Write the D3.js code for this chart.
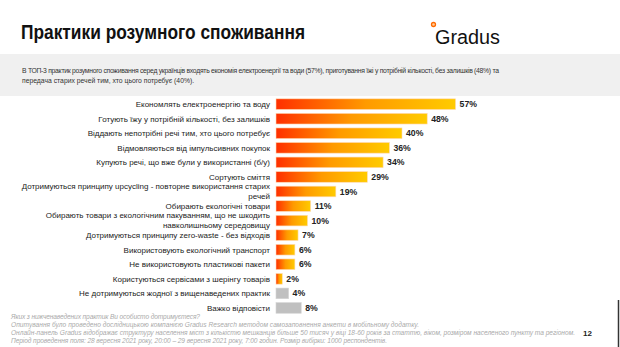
<!DOCTYPE html>
<html>
<head>
<meta charset="utf-8">
<script src="https://cdn.jsdelivr.net/npm/d3@7"></script>
<style>
  body { margin: 0; background: #fff; }
  svg { display: block; font-family: "Liberation Sans", Arial, sans-serif; }
</style>
</head>
<body>
<svg id="chart" width="620" height="347"></svg>
<script>
// data
const categories = [
  "Економлять електроенергію та воду",
  "Готують їжу у потрібній кількості, без залишків",
  "Віддають непотрібні речі тим, хто цього потребує",
  "Відмовляються від імпульсивних покупок",
  "Купують речі, що вже були у використанні (б/у)",
  "Сортують сміття",
  "Дотримуються принципу upcycling - повторне використання старих|речей",
  "Обирають екологічні товари",
  "Обирають товари з екологічним пакуванням, що не шкодить|навколишньому середовищу",
  "Дотримуються принципу zero-waste - без відходів",
  "Використовують екологічний транспорт",
  "Не використовують пластикові пакети",
  "Користуються сервісами з шерінгу товарів",
  "Не дотримуються жодної з вищенаведених практик",
  "Важко відповісти"
];
const values = [57, 48, 40, 36, 34, 29, 19, 11, 10, 7, 6, 6, 2, 4, 8];
const greyCategories = ["Не дотримуються жодної з вищенаведених практик", "Важко відповісти"];

const title = "Практики розумного споживання";
const introLines = [
  "В ТОП-3 практик розумного споживання серед українців входять економія електроенергії та води (57%), приготування їжі у потрібній кількості, без залишків (48%) та",
  "передача старих речей тим, хто цього потребує (40%)."
];
const notes = [
  "Яких з нижченаведених практик Ви особисто дотримуєтеся?",
  "Опитування було проведено дослідницькою компанією Gradus Research методом самозаповнення анкети в мобільному додатку.",
  "Онлайн-панель Gradus відображає структуру населення міст з кількістю мешканців більше 50 тисяч у віці 18-60 років за статтю, віком, розміром населеного пункту та регіоном.",
  "Період проведення поля: 28 вересня 2021 року, 20:00 – 29 вересня 2021 року, 7:00 годин. Розмір вибірки: 1000 респондентів."
];
const noteWidths = [189, 408, 564, 376];

const svg = d3.select("#chart");

// gradient for the bars, red on the left to yellow on the right
const grad = svg.append("defs").append("linearGradient")
    .attr("id", "barGrad")
    .attr("x1", 0).attr("x2", 1).attr("y1", 0).attr("y2", 0);
grad.append("stop").attr("offset", "0%").attr("stop-color", "#ff2f00");
grad.append("stop").attr("offset", "50%").attr("stop-color", "#ff9a00");
grad.append("stop").attr("offset", "100%").attr("stop-color", "#ffcb00");

// header
svg.append("text")
    .attr("x", 21).attr("y", 39)
    .attr("font-size", 19.5).attr("font-weight", "bold").attr("fill", "#111")
    .attr("textLength", 284).attr("lengthAdjust", "spacingAndGlyphs")
    .text(title);

svg.append("circle")
    .attr("cx", 433.5).attr("cy", 24.5).attr("r", 2)
    .attr("fill", "#ffd0a0").attr("stroke", "#ff6a00").attr("stroke-width", 1.3);
svg.append("text")
    .attr("x", 435).attr("y", 44)
    .attr("font-size", 20).attr("fill", "#111")
    .attr("textLength", 65).attr("lengthAdjust", "spacingAndGlyphs")
    .text("Gradus");

// grey intro band
svg.append("rect")
    .attr("x", 0).attr("y", 54).attr("width", 620).attr("height", 42)
    .attr("fill", "#f0f0f0");
svg.append("g").selectAll("text")
  .data(introLines)
  .join("text")
    .attr("x", 22)
    .attr("y", (d, i) => 73 + i * 10)
    .attr("font-size", 6.8).attr("fill", "#333")
    .attr("textLength", (d, i) => i === 0 ? 477 : null)
    .attr("lengthAdjust", "spacing")
    .text(d => d);

// scales
const x = d3.scaleLinear().domain([0, 100]).range([276, 591]);
const y = d3.scaleBand().domain(categories).range([96.8, 315.3]).paddingInner(0.27).paddingOuter(0.14);

const rows = svg.append("g").selectAll("g")
  .data(categories.map((c, i) => ({cat: c, value: values[i]})))
  .join("g");

rows.append("rect")
    .attr("x", x(0))
    .attr("y", d => y(d.cat))
    .attr("width", d => x(d.value) - x(0))
    .attr("height", y.bandwidth())
    .attr("fill", d => greyCategories.includes(d.cat) ? "#c0c0c0" : "url(#barGrad)")
    .attr("stroke", d => greyCategories.includes(d.cat) ? "#d4d4d4" : "#ffd9b3")
    .attr("stroke-width", 0.6);

rows.append("text")
    .attr("x", d => x(d.value) + 4)
    .attr("y", d => y(d.cat) + y.bandwidth() / 2)
    .attr("dy", "0.35em")
    .attr("font-size", 8.7).attr("font-weight", "bold").attr("fill", "#222")
    .text(d => d.value + "%");

// category labels, some split over two lines
rows.each(function(d) {
  const parts = d.cat.split("|");
  const cy = y(d.cat) + y.bandwidth() / 2;
  const t = d3.select(this).append("text")
      .attr("text-anchor", "end")
      .attr("font-size", 8).attr("fill", "#222");
  parts.forEach((p, i) => {
    t.append("tspan")
        .attr("x", 270)
        .attr("y", cy + (i - (parts.length - 1) / 2) * 10)
        .attr("dy", "0.35em")
        .text(p);
  });
});

// footnotes
svg.append("g").selectAll("text")
  .data(notes)
  .join("text")
    .attr("x", 11)
    .attr("y", (d, i) => 319 + i * 8)
    .attr("font-size", 6.6).attr("font-style", "italic").attr("fill", "#aaa")
    .attr("textLength", (d, i) => noteWidths[i])
    .attr("lengthAdjust", "spacing")
    .text(d => d);

svg.append("text")
    .attr("x", 583).attr("y", 336)
    .attr("font-size", 8).attr("font-weight", "bold").attr("fill", "#222")
    .text("12");

svg.append("line")
    .attr("x1", 618.5).attr("x2", 618.5).attr("y1", 300).attr("y2", 347)
    .attr("stroke", "#333").attr("stroke-width", 1.5);
</script>
</body>
</html>
